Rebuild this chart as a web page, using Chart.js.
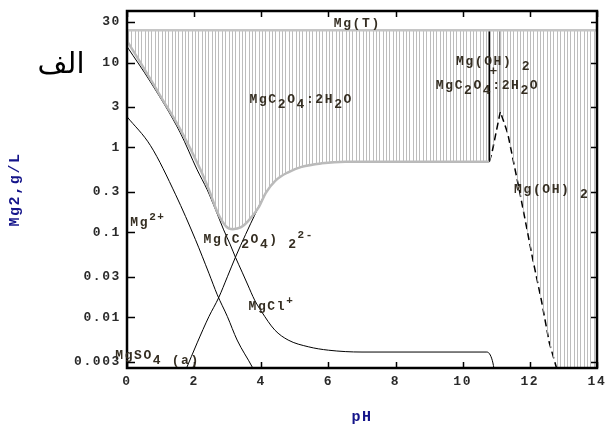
<!DOCTYPE html>
<html>
<head>
<meta charset="utf-8">
<script src="https://cdn.jsdelivr.net/npm/chart.js@4.4.0/dist/chart.umd.min.js"></script>
<style>
  html, body { margin: 0; padding: 0; background: #fff; }
</style>
</head>
<body>
<canvas id="grafico" width="608" height="427"></canvas>
<script>
// EIXOS
const xTicks = [0, 2, 4, 6, 8, 10, 12, 14]
const yTicks = [0.003, 0.01, 0.03, 0.1, 0.3, 1, 3, 10, 30]
const yTickLabels = ['0.003', '0.01', '0.03', '0.1', '0.3', '1', '3', '10', '30']

// Mg TOTAL (LINHA CINZA DE CIMA)
const totalPH = [0, 14]
const totalMg = [24, 24]

// LIMITE DE SOLUBILIDADE MgC2O4:2H2O (CINZA)
const limitePH = [0, 0.5, 1.0, 1.6, 2.19, 2.44, 2.7, 2.95, 3.15, 3.4, 3.6, 3.93, 4.13, 4.43, 4.8, 5.2, 5.8, 6.5, 8, 10.79]
const limiteMg = [18, 8.6, 4.0, 1.6, 0.545, 0.317, 0.17, 0.118, 0.109, 0.115, 0.135, 0.2, 0.29, 0.41, 0.51, 0.59, 0.65, 0.68, 0.68, 0.68]

// CURVA TRACEJADA Mg(OH)2
const hidroxPH = [10.79, 10.87, 11.12, 11.34, 11.54, 11.69, 11.86, 12.09, 12.34, 12.58, 12.79, 12.85]
const hidroxMg = [0.68, 0.86, 2.64, 1.47, 0.60, 0.31, 0.14, 0.0475, 0.0161, 0.0050, 0.00257, 0.0021]

// LINHAS VERTICAIS
const vert1PH = [10.79, 10.79]
const vert1Mg = [0.68, 24]
const vert2PH = [11.12, 11.12]
const vert2Mg = [2.64, 24]

// ESPECIES EM SOLUCAO
const livrePH = [0, 0.7, 1.59, 2.09, 2.39, 2.64, 2.88, 3.08, 3.23, 3.43, 3.6, 3.8, 4.0, 4.4, 4.8, 5.4, 6.0, 7.0, 10.72, 10.82, 10.9, 10.96]
const livreMg = [15.4, 5.9, 1.48, 0.545, 0.317, 0.184, 0.107, 0.071, 0.051, 0.034, 0.024, 0.016, 0.0118, 0.0071, 0.0054, 0.0045, 0.0041, 0.0039, 0.0039, 0.0036, 0.0029, 0.0021]

const segundaPH = [0, 0.7, 1.45, 2.04, 2.44, 2.69, 2.99, 3.28, 3.73, 3.9]
const segundaMg = [2.3, 1.05, 0.277, 0.082, 0.033, 0.0184, 0.0102, 0.0054, 0.0026, 0.0019]

const oxalatoPH = [1.75, 2.09, 2.44, 2.73, 2.99, 3.23, 3.53, 3.83, 4.13, 4.43, 4.8, 5.2, 5.8, 6.5, 8, 10.79]
const oxalatoMg = [0.0024, 0.005, 0.0102, 0.017, 0.030, 0.051, 0.094, 0.168, 0.29, 0.41, 0.51, 0.59, 0.65, 0.68, 0.68, 0.68]

// ROTULOS (0 normal, -1 subscrito, 1 sobrescrito)
const rotulos = [
    { ph: 6.16, mg: 28.4, partes: [['Mg(T)', 0]] },
    { ph: 3.65, mg: 3.63, partes: [['MgC', 0], ['2', -1], ['O', 0], ['4', -1], [':2H', 0], ['2', -1], ['O', 0]] },
    { ph: 9.8, mg: 10.1, partes: [['Mg(OH)', 0], [' 2', -1]] },
    { ph: 10.8, mg: 7.7, partes: [['+', 0]] },
    { ph: 9.2, mg: 5.4, partes: [['MgC', 0], ['2', -1], ['O', 0], ['4', -1], [':2H', 0], ['2', -1], ['O', 0]] },
    { ph: 11.53, mg: 0.32, partes: [['Mg(OH)', 0], [' 2', -1]] },
    { ph: 0.1, mg: 0.13, partes: [['Mg', 0], ['2+', 1]] },
    { ph: 2.28, mg: 0.081, partes: [['Mg(C', 0], ['2', -1], ['O', 0], ['4', -1], [')', 0], [' 2', -1], ['2-', 1]] },
    { ph: 3.62, mg: 0.0135, partes: [['MgCl', 0], ['+', 1]] },
    { ph: -0.35, mg: 0.0035, partes: [['MgSO', 0], ['4 (a)', -1]] }
]

function pontos(xs, ys) {
    return xs.map((x, i) => ({ x: x, y: ys[i] }))
}

// AREA HACHURADA: LIMITE + CURVA Mg(OH)2 + CANTO DIREITO
const areaPH = limitePH.concat(hidroxPH.slice(1), [14])
const areaMg = limiteMg.concat(hidroxMg.slice(1), [0.0021])

function hachura(c) {
    const chart = c.chart
    const area = chart.chartArea
    if (!area || !chart.scales.x) return '#cccccc'
    const xs = chart.scales.x
    const largura = Math.round(xs.getPixelForValue(2) - xs.getPixelForValue(0))
    const cv = document.createElement('canvas')
    cv.width = largura
    cv.height = 4
    const g = cv.getContext('2d')
    g.fillStyle = '#bdbdbd'
    for (let i = 0; i < 20; i++) g.fillRect(Math.round(i * largura / 20), 0, 1, 4)
    const p = chart.ctx.createPattern(cv, 'repeat')
    p.setTransform(new DOMMatrix().translate(Math.round(area.left) + 1, 0))
    return p
}

const fonteTick = { family: '"Liberation Mono", monospace', size: 13, weight: 'bold' }
const fonteTitulo = { family: '"Liberation Mono", monospace', size: 15, weight: 'bold' }

function textoRico(ctx, x, y, partes) {
    let cx = x
    for (const [t, tipo] of partes) {
        ctx.font = tipo === 1 ? 'bold 11px "Liberation Mono"' : 'bold 13px "Liberation Mono"'
        const dy = tipo === -1 ? 5 : (tipo === 1 ? -5 : 0)
        ctx.fillText(t, cx, y + dy)
        cx += ctx.measureText(t).width
    }
}

const moldura = {
    id: 'moldura',
    beforeLayout(chart) { chart.ctx.letterSpacing = '1.6px' },
    beforeDraw(chart) { chart.ctx.letterSpacing = '1.6px' },
    afterDraw(chart) {
        const { ctx, chartArea: a, scales: { x, y } } = chart
        ctx.save()
        ctx.strokeStyle = '#000'
        ctx.lineWidth = 1.5
        ctx.beginPath()
        for (const v of yTicks) {
            const py = Math.round(y.getPixelForValue(v)) + 0.5
            ctx.moveTo(a.left, py); ctx.lineTo(a.left + 8, py)
            ctx.moveTo(a.right, py); ctx.lineTo(a.right - 6, py)
        }
        for (const v of xTicks) {
            const px = Math.round(x.getPixelForValue(v)) + 0.5
            ctx.moveTo(px, a.bottom); ctx.lineTo(px, a.bottom - 6)
            ctx.moveTo(px, a.top); ctx.lineTo(px, a.top + 6)
        }
        ctx.stroke()
        ctx.lineWidth = 2.5
        ctx.strokeRect(a.left, a.top, a.right - a.left, a.bottom - a.top)

        // ROTULOS DAS ESPECIES
        ctx.fillStyle = '#352e22'
        ctx.textBaseline = 'middle'
        ctx.textAlign = 'left'
        ctx.letterSpacing = '1.6px'
        for (const r of rotulos) {
            textoRico(ctx, x.getPixelForValue(r.ph), y.getPixelForValue(r.mg), r.partes)
        }

        // LETRA DO PAINEL
        ctx.letterSpacing = '0px'
        ctx.fillStyle = '#000'
        ctx.font = '29px "DejaVu Sans", sans-serif'
        ctx.textAlign = 'center'
        ctx.fillText('الف', 61, 65)
        ctx.restore()
    }
}

const linha = (dados, cor, largura, extra) => Object.assign({
    data: dados,
    borderColor: cor,
    borderWidth: largura,
    pointRadius: 0,
    fill: false
}, extra || {})

let grafico = new Chart(document.getElementById('grafico'), {
    type: 'line',
    data: {
        datasets: [
            linha(pontos(totalPH, totalMg), '#c6c6c6', 2.5),
            linha(pontos(areaPH, areaMg), 'rgba(0,0,0,0)', 0, { fill: { target: 0 }, backgroundColor: hachura, cubicInterpolationMode: 'monotone' }),
            linha(pontos(limitePH, limiteMg), '#bababa', 2.5, { cubicInterpolationMode: 'monotone' }),
            linha(pontos(livrePH, livreMg), '#000', 1, { cubicInterpolationMode: 'monotone' }),
            linha(pontos(segundaPH, segundaMg), '#000', 1, { cubicInterpolationMode: 'monotone' }),
            linha(pontos(oxalatoPH, oxalatoMg), '#000', 1, { cubicInterpolationMode: 'monotone' }),
            linha(pontos(hidroxPH, hidroxMg), '#000', 1.5, { borderDash: [7, 4] }),
            linha(pontos(vert1PH, vert1Mg), '#000', 1.5),
            linha(pontos(vert2PH, vert2Mg), '#000', 1.5)
        ]
    },
    options: {
        responsive: false,
        animation: false,
        events: [],
        layout: { padding: { left: 0, top: 11, right: 11, bottom: 0 } },
        plugins: { legend: { display: false }, tooltip: { enabled: false } },
        scales: {
            x: {
                type: 'linear',
                min: 0,
                max: 14,
                afterBuildTicks: s => { s.ticks = xTicks.map(v => ({ value: v })) },
                afterFit: s => { s.height = 59; s.paddingLeft = 0; s.paddingRight = 0 },
                grid: { display: false, drawTicks: false },
                border: { display: false },
                ticks: { padding: 6, font: fonteTick, color: '#2a2a2a', maxRotation: 0, autoSkip: false, callback: v => String(v) },
                title: { display: true, text: 'pH', color: '#14148a', font: fonteTitulo, padding: { top: 0, bottom: 1 } }
            },
            y: {
                type: 'logarithmic',
                min: 0.00253,
                max: 40.4,
                afterBuildTicks: s => { s.ticks = yTicks.map(v => ({ value: v })) },
                afterFit: s => { s.width = 127; s.paddingTop = 0; s.paddingBottom = 0 },
                grid: { display: false, drawTicks: false },
                border: { display: false },
                ticks: { padding: 6, font: fonteTick, color: '#2a2a2a', autoSkip: false, callback: (v, i) => yTickLabels[i] },
                title: { display: true, text: 'Mg2,g/L', color: '#14148a', font: fonteTitulo, padding: { top: 6, bottom: 0 } }
            }
        }
    },
    plugins: [moldura]
})
</script>
</body>
</html>
